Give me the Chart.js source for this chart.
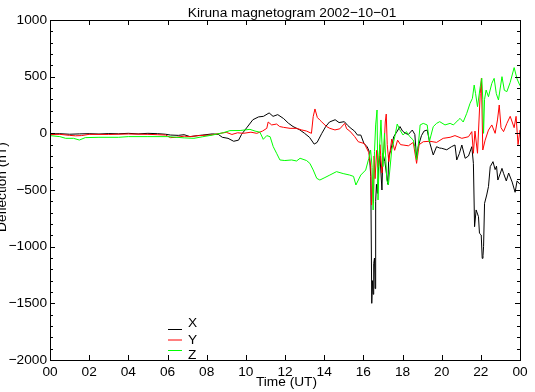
<!DOCTYPE html>
<html>
<head>
<meta charset="utf-8">
<script src="https://cdn.jsdelivr.net/npm/chart.js@4/dist/chart.umd.min.js"></script>
<style>
  html, body { margin: 0; padding: 0; background: #fff; }
  #c { display: block; }
</style>
</head>
<body>
<canvas id="c" width="535" height="392"></canvas>
<script>
// ---- Data ----
const chartTitle = "Kiruna magnetogram 2002\u221210\u221201";
const xTitle = "Time (UT)";
const yTitle = "Deflection (nT)";
const seriesNames = ["X", "Y", "Z"];
const seriesColors = ["#000000", "#ff0000", "#00ff00"];
const xTickValues = [0, 2, 4, 6, 8, 10, 12, 14, 16, 18, 20, 22, 24];
const xTickLabels = ["00", "02", "04", "06", "08", "10", "12", "14", "16", "18", "20", "22", "00"];
const yTickValues = [-2000, -1500, -1000, -500, 0, 500, 1000];

// X component (black): hours UT / nT
const tX = [0,0.5,1,1.5,2,2.5,3,3.5,4,4.5,5,5.5,5.9,6.15,6.55,6.85,7.15,7.55,7.8,8.3,8.6,8.8,9.09,9.38,9.63,9.78,10.07,10.36,10.65,10.9,11.19,11.39,11.63,11.93,12.17,12.41,12.76,13.0,13.25,13.49,13.64,13.88,14.08,14.27,14.56,14.76,15.03,15.2,15.37,15.55,15.7,15.87,16.03,16.2,16.3,16.38,16.43,16.47,16.5,16.53,16.57,16.6,16.63,16.67,16.72,16.78,16.85,16.95,17,17.1,17.25,17.3,17.4,17.55,17.7,17.87,18,
  18.15,18.3,18.5,18.63,18.72,18.8,18.97,19.1,19.26,19.4,19.57,19.74,19.9,20,20.26,20.5,20.68,20.77,20.9,21.03,21.2,21.37,21.54,21.62,21.68,21.76,21.88,21.93,22.02,22.07,22.11,22.14,22.19,22.3,22.39,22.48,22.62,22.73,22.8,22.87,23,23.08,23.16,23.3,23.42,23.6,23.75,23.85,24];
const vX = [-5,-3,-8,-5,-3,-6,-2,-4,0,-5,0,-3,-8,-15,-18,-12,-29,-20,-15,-5,-10,-35,-44,-70,-60,-10,55,120,145,150,180,150,165,130,90,60,30,0,-35,-95,-80,0,60,100,120,95,103,70,44,20,-15,-15,-88,-120,-160,-380,-1500,-1300,-1420,-1150,-1100,-1370,-600,-450,-530,-294,-200,-500,-176,-250,-450,-200,-150,-30,10,60,20,
  0,-10,29,-10,-220,-118,-20,20,29,-88,-191,-118,-130,-132,-145,-118,-103,-235,-180,-103,-220,-200,-118,-265,-824,-676,-735,-882,-897,-1103,-1080,-1000,-618,-544,-470,-294,-250,-320,-290,-412,-350,-309,-353,-420,-350,-430,-520,-420,-450];

// Y component (red)
const tY = [0,0.5,1,1.3,1.6,2,3,4,5,5.5,5.9,6.15,6.45,6.85,7.15,7.6,8.2,8.7,9.0,9.29,9.58,9.87,10.26,10.56,10.85,11.07,11.14,11.32,11.57,11.73,11.92,12.26,12.59,12.85,13.1,13.35,13.44,13.53,13.65,13.78,13.88,14.12,14.29,14.55,14.8,15.05,15.15,15.31,15.56,15.74,16.05,16.28,16.38,16.42,
  16.47,16.52,16.55,16.6,16.68,16.75,16.85,16.95,17.05,17.12,17.17,17.22,17.3,17.45,17.6,17.75,17.9,18.03,18.3,18.55,18.72,18.85,19.06,19.4,19.74,20.08,20.43,20.68,21.03,21.37,21.54,21.62,21.7,21.83,21.97,22.03,22.1,22.22,22.39,22.56,22.73,22.85,22.94,23.03,23.16,23.33,23.5,23.7,23.8,23.9,24];
const vY = [-10,-9,-18,-22,-20,-9,-10,-6,-9,-12,-15,-38,-35,-25,-29,-20,-15,0,9,-10,5,0,10,0,20,44,100,74,82,60,53,44,44,30,20,0,147,215,140,117,100,60,44,30,40,88,40,20,-29,-74,-90,-170,-300,-633,
  -450,-617,-200,-400,-150,-300,-100,-350,-150,100,170,-100,-250,-50,-150,-60,-100,-103,-110,-80,-265,-100,-74,-70,-80,-44,-35,-20,-44,-30,15,-176,20,-176,353,485,-147,-60,29,74,0,118,250,50,15,88,150,50,150,-100,30];

// Z component (green)
const tZ = [0,0.5,0.8,1.2,1.5,1.8,2.5,3.5,4,5,6,6.85,7.35,7.8,8.3,8.86,9.19,9.71,10.21,10.47,10.72,10.89,11.07,11.24,11.4,11.57,11.74,11.99,12.34,12.59,12.77,13.1,13.27,13.44,13.62,13.78,14.04,14.29,14.63,14.97,15.3,15.5,15.62,15.87,16.12,16.28,16.37,
  16.45,16.5,16.57,16.63,16.7,16.75,16.83,16.9,17,17.08,17.2,17.28,17.45,17.62,17.73,17.87,18.03,18.2,18.37,18.55,18.63,18.72,18.8,18.9,19.06,19.26,19.37,19.57,19.74,19.9,20.17,20.43,20.6,20.85,20.94,21.1,21.28,21.45,21.57,21.66,21.73,21.83,21.97,22.05,22.1,22.14,22.19,22.27,22.39,22.56,22.68,22.79,22.9,23.08,23.2,23.33,23.5,23.7,23.85,24];
const vZ = [-20,-29,-44,-44,-59,-38,-35,-35,-29,-29,-29,-40,-44,-30,-15,6,24,25,35,20,10,-53,-20,-30,-118,-176,-235,-240,-235,-244,-220,-240,-265,-323,-397,-412,-390,-368,-338,-355,-368,-380,-456,-368,-324,-220,-147,
  -300,-676,-160,74,206,-588,-118,118,-294,0,-412,-456,-147,-20,82,29,-15,15,-29,-59,-118,-235,-118,74,88,74,-74,59,88,103,74,88,74,118,132,100,176,265,309,426,353,235,412,485,300,0,300,382,323,441,485,350,294,500,380,368,450,580,480,420];

// ---- Chart ----
const FONT = "'Liberation Sans', Arial, Helvetica, sans-serif";
const FSIZE = 13.7;
const toPts = (t, v) => t.map((x, i) => ({ x: x, y: v[i] }));
const timeSeries = [[tX, vX], [tY, vY], [tZ, vZ]];

const decor = {
  id: 'decor',
  afterDraw(chart) {
    const ctx = chart.ctx;
    const a = chart.chartArea;
    const xs = chart.scales.x, ys = chart.scales.y;
    ctx.save();
    ctx.strokeStyle = '#000';
    ctx.lineWidth = 1;
    // frame
    ctx.strokeRect(Math.round(a.left) + 0.5, Math.round(a.top) + 0.5,
                   Math.round(a.right - a.left), Math.round(a.bottom - a.top));
    ctx.beginPath();
    // x major ticks (bottom and top, inward)
    xTickValues.forEach(v => {
      const p = Math.round(xs.getPixelForValue(v)) + 0.5;
      ctx.moveTo(p, a.bottom); ctx.lineTo(p, a.bottom - 5);
      ctx.moveTo(p, a.top); ctx.lineTo(p, a.top + 5);
    });
    // y ticks, major every 500, minor every 100
    for (let v = -2000; v <= 1000; v += 100) {
      const p = Math.round(ys.getPixelForValue(v)) + 0.5;
      const len = (v % 500 === 0) ? 5 : 3;
      ctx.moveTo(a.left, p); ctx.lineTo(a.left + len, p);
      ctx.moveTo(a.right, p); ctx.lineTo(a.right - len, p);
    }
    ctx.stroke();

    ctx.fillStyle = '#000';
    ctx.font = FSIZE + 'px ' + FONT;
    // title
    ctx.textAlign = 'center';
    ctx.textBaseline = 'middle';
    ctx.fillText(chartTitle, 292, 13);
    // x title
    ctx.fillText(xTitle, 286.5, 382);
    // y title (rotated)
    ctx.save();
    ctx.translate(5.5, 187);
    ctx.rotate(-Math.PI / 2);
    ctx.textBaseline = 'alphabetic';
    ctx.fillText(yTitle, 0, 0);
    ctx.restore();

    // legend
    const lineY = [329, 339.5, 350];
    const textY = [323.5, 340, 355];
    chart.data.datasets.forEach((ds, i) => {
      ctx.strokeStyle = ds.borderColor;
      ctx.beginPath();
      ctx.moveTo(168, lineY[i] + 0.5);
      ctx.lineTo(182, lineY[i] + 0.5);
      ctx.stroke();
      ctx.fillStyle = '#000';
      ctx.textAlign = 'left';
      ctx.textBaseline = 'middle';
      ctx.fillText(ds.label, 188, textY[i]);
    });
    ctx.restore();
  }
};

new Chart(document.getElementById('c'), {
  type: 'line',
  data: {
    datasets: seriesNames.map((name, i) => ({
      label: name,
      data: toPts(timeSeries[i][0], timeSeries[i][1]),
      borderColor: seriesColors[i],
      backgroundColor: seriesColors[i],
      borderWidth: 1,
      pointRadius: 0,
      tension: 0,
      fill: false,
      order: 3 - i
    }))
  },
  options: {
    responsive: false,
    animation: false,
    devicePixelRatio: 1,
    layout: { padding: { top: 20, right: 15, left: 0, bottom: 0 } },
    plugins: { legend: { display: false }, tooltip: { enabled: false }, title: { display: false } },
    scales: {
      x: {
        type: 'linear', min: 0, max: 24,
        afterBuildTicks: s => { s.ticks = xTickValues.map(v => ({ value: v })); },
        afterFit: s => { s.height = 32; },
        grid: { display: false, drawTicks: false },
        border: { display: false },
        ticks: {
          autoSkip: false, maxRotation: 0, padding: 4, color: '#000',
          font: { family: FONT, size: FSIZE },
          callback: (v) => xTickLabels[xTickValues.indexOf(v)]
        }
      },
      y: {
        type: 'linear', min: -2000, max: 1000,
        afterBuildTicks: s => { s.ticks = yTickValues.map(v => ({ value: v })); },
        afterFit: s => { s.width = 50; },
        grid: { display: false, drawTicks: false },
        border: { display: false },
        ticks: {
          autoSkip: false, padding: 3, color: '#000',
          font: { family: FONT, size: FSIZE },
          callback: (v) => (v < 0 ? '\u2212' + Math.abs(v) : String(v))
        }
      }
    }
  },
  plugins: [decor]
});
</script>
</body>
</html>
